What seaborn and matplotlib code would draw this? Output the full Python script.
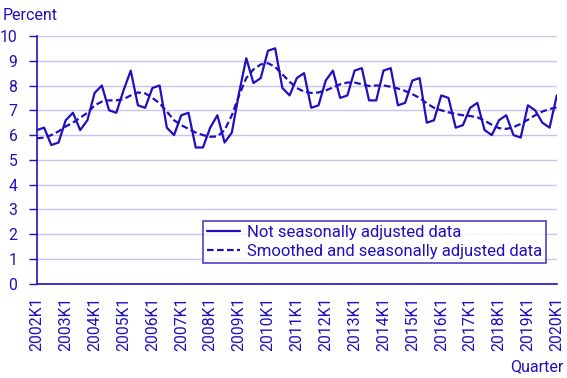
import matplotlib
matplotlib.use("Agg")
import matplotlib.pyplot as plt
import seaborn as sns
import pandas as pd
import numpy as np

# Quarterly values, 2002K1 .. 2020K1
years = list(range(2002, 2021))
quarters = [f"{y}K{q}" for y in years for q in range(1, 5)][:73]

not_adjusted = [
    6.2, 6.3, 5.6, 5.7,   # 2002
    6.6, 6.9, 6.2, 6.6,   # 2003
    7.7, 8.0, 7.0, 6.9,   # 2004
    7.8, 8.6, 7.2, 7.1,   # 2005
    7.9, 8.0, 6.3, 6.0,   # 2006
    6.8, 6.9, 5.5, 5.5,   # 2007
    6.3, 6.8, 5.7, 6.1,   # 2008
    7.7, 9.1, 8.1, 8.3,   # 2009
    9.4, 9.5, 7.9, 7.6,   # 2010
    8.3, 8.5, 7.1, 7.2,   # 2011
    8.2, 8.6, 7.5, 7.6,   # 2012
    8.6, 8.7, 7.4, 7.4,   # 2013
    8.6, 8.7, 7.2, 7.3,   # 2014
    8.2, 8.3, 6.5, 6.6,   # 2015
    7.6, 7.5, 6.3, 6.4,   # 2016
    7.1, 7.3, 6.2, 6.0,   # 2017
    6.6, 6.8, 6.0, 5.9,   # 2018
    7.2, 7.0, 6.5, 6.3,   # 2019
    7.6,                  # 2020
]

smoothed = [
    5.87, 5.9, 6.0, 6.15,
    6.35, 6.5, 6.7, 6.9,
    7.2, 7.35, 7.4, 7.4,
    7.45, 7.6, 7.72, 7.68,
    7.5, 7.28, 6.95, 6.6,
    6.4, 6.25, 6.1, 6.0,
    5.93, 5.95, 6.2, 6.8,
    7.6, 8.3, 8.65, 8.85,
    8.9, 8.75, 8.45, 8.15,
    7.9, 7.75, 7.7, 7.72,
    7.8, 7.92, 8.05, 8.12,
    8.12, 8.05, 7.98, 8.0,
    8.0, 7.95, 7.88, 7.78,
    7.65, 7.5, 7.28, 7.1,
    7.0, 6.92, 6.85, 6.8,
    6.77, 6.72, 6.58, 6.42,
    6.28, 6.25, 6.32, 6.45,
    6.62, 6.8, 6.95, 7.05,
    7.12,
]

labels = ["Not seasonally adjusted data", "Smoothed and seasonally adjusted data"]

blue = "#1f0fbf"
grid_col = "#c9c5f0"

df = pd.DataFrame({
    "pos": list(range(len(quarters))) * 2,
    "value": not_adjusted + smoothed,
    "series": [labels[0]] * len(quarters) + [labels[1]] * len(quarters),
})

sns.set_theme(style="white")
plt.rcParams["font.family"] = ["Roboto", "DejaVu Sans"]

fig = plt.figure(figsize=(5.67, 3.78), dpi=100)
ax = fig.add_axes([0.065, 0.249, 0.917, 0.656])

sns.lineplot(data=df, x="pos", y="value", hue="series", style="series",
             palette=[blue, blue], dashes=[(None, None), (3, 1.5)],
             linewidth=1.6, ax=ax)

ax.set_xlim(0, len(quarters) - 1)
ax.set_ylim(0, 10)
ax.set_yticks(range(0, 11))
ax.yaxis.grid(True, color=grid_col, linewidth=1)
ax.set_axisbelow(True)

# yearly labels, 3-year tick marks
year_pos = list(range(0, len(quarters), 4))
ax.set_xticks(year_pos)
ax.set_xticklabels([quarters[p] for p in year_pos], rotation=90)
ax.set_xticks(list(range(0, len(quarters), 12)), minor=True)
ax.tick_params(axis="x", which="major", length=0, pad=9, colors=blue, labelsize=11.3)
ax.tick_params(axis="x", which="minor", length=5, width=1, color=blue, direction="out")
ax.tick_params(axis="y", length=6, width=1, color=blue, labelcolor=blue, labelsize=11.3, pad=8, left=True)

for side in ["top", "right"]:
    ax.spines[side].set_visible(False)
for side in ["left", "bottom"]:
    ax.spines[side].set_color(blue)
    ax.spines[side].set_linewidth(1.2)

ax.set_xlabel("")
ax.set_ylabel("")

leg = ax.legend(loc="lower right", bbox_to_anchor=(0.98, 0.085), frameon=True,
                fancybox=False, fontsize=12, handlelength=2.0, borderpad=0.25,
                labelspacing=0.2, handletextpad=0.4, borderaxespad=0)
leg.get_frame().set_edgecolor(blue)
leg.get_frame().set_linewidth(1.2)
for t in leg.get_texts():
    t.set_color(blue)

fig.text(0.004, 0.96, "Percent", color=blue, fontsize=11.5, ha="left", va="center")
fig.text(0.993, 0.03, "Quarter", color=blue, fontsize=11.5, ha="right", va="center")

fig.savefig("out.png", dpi=100)
